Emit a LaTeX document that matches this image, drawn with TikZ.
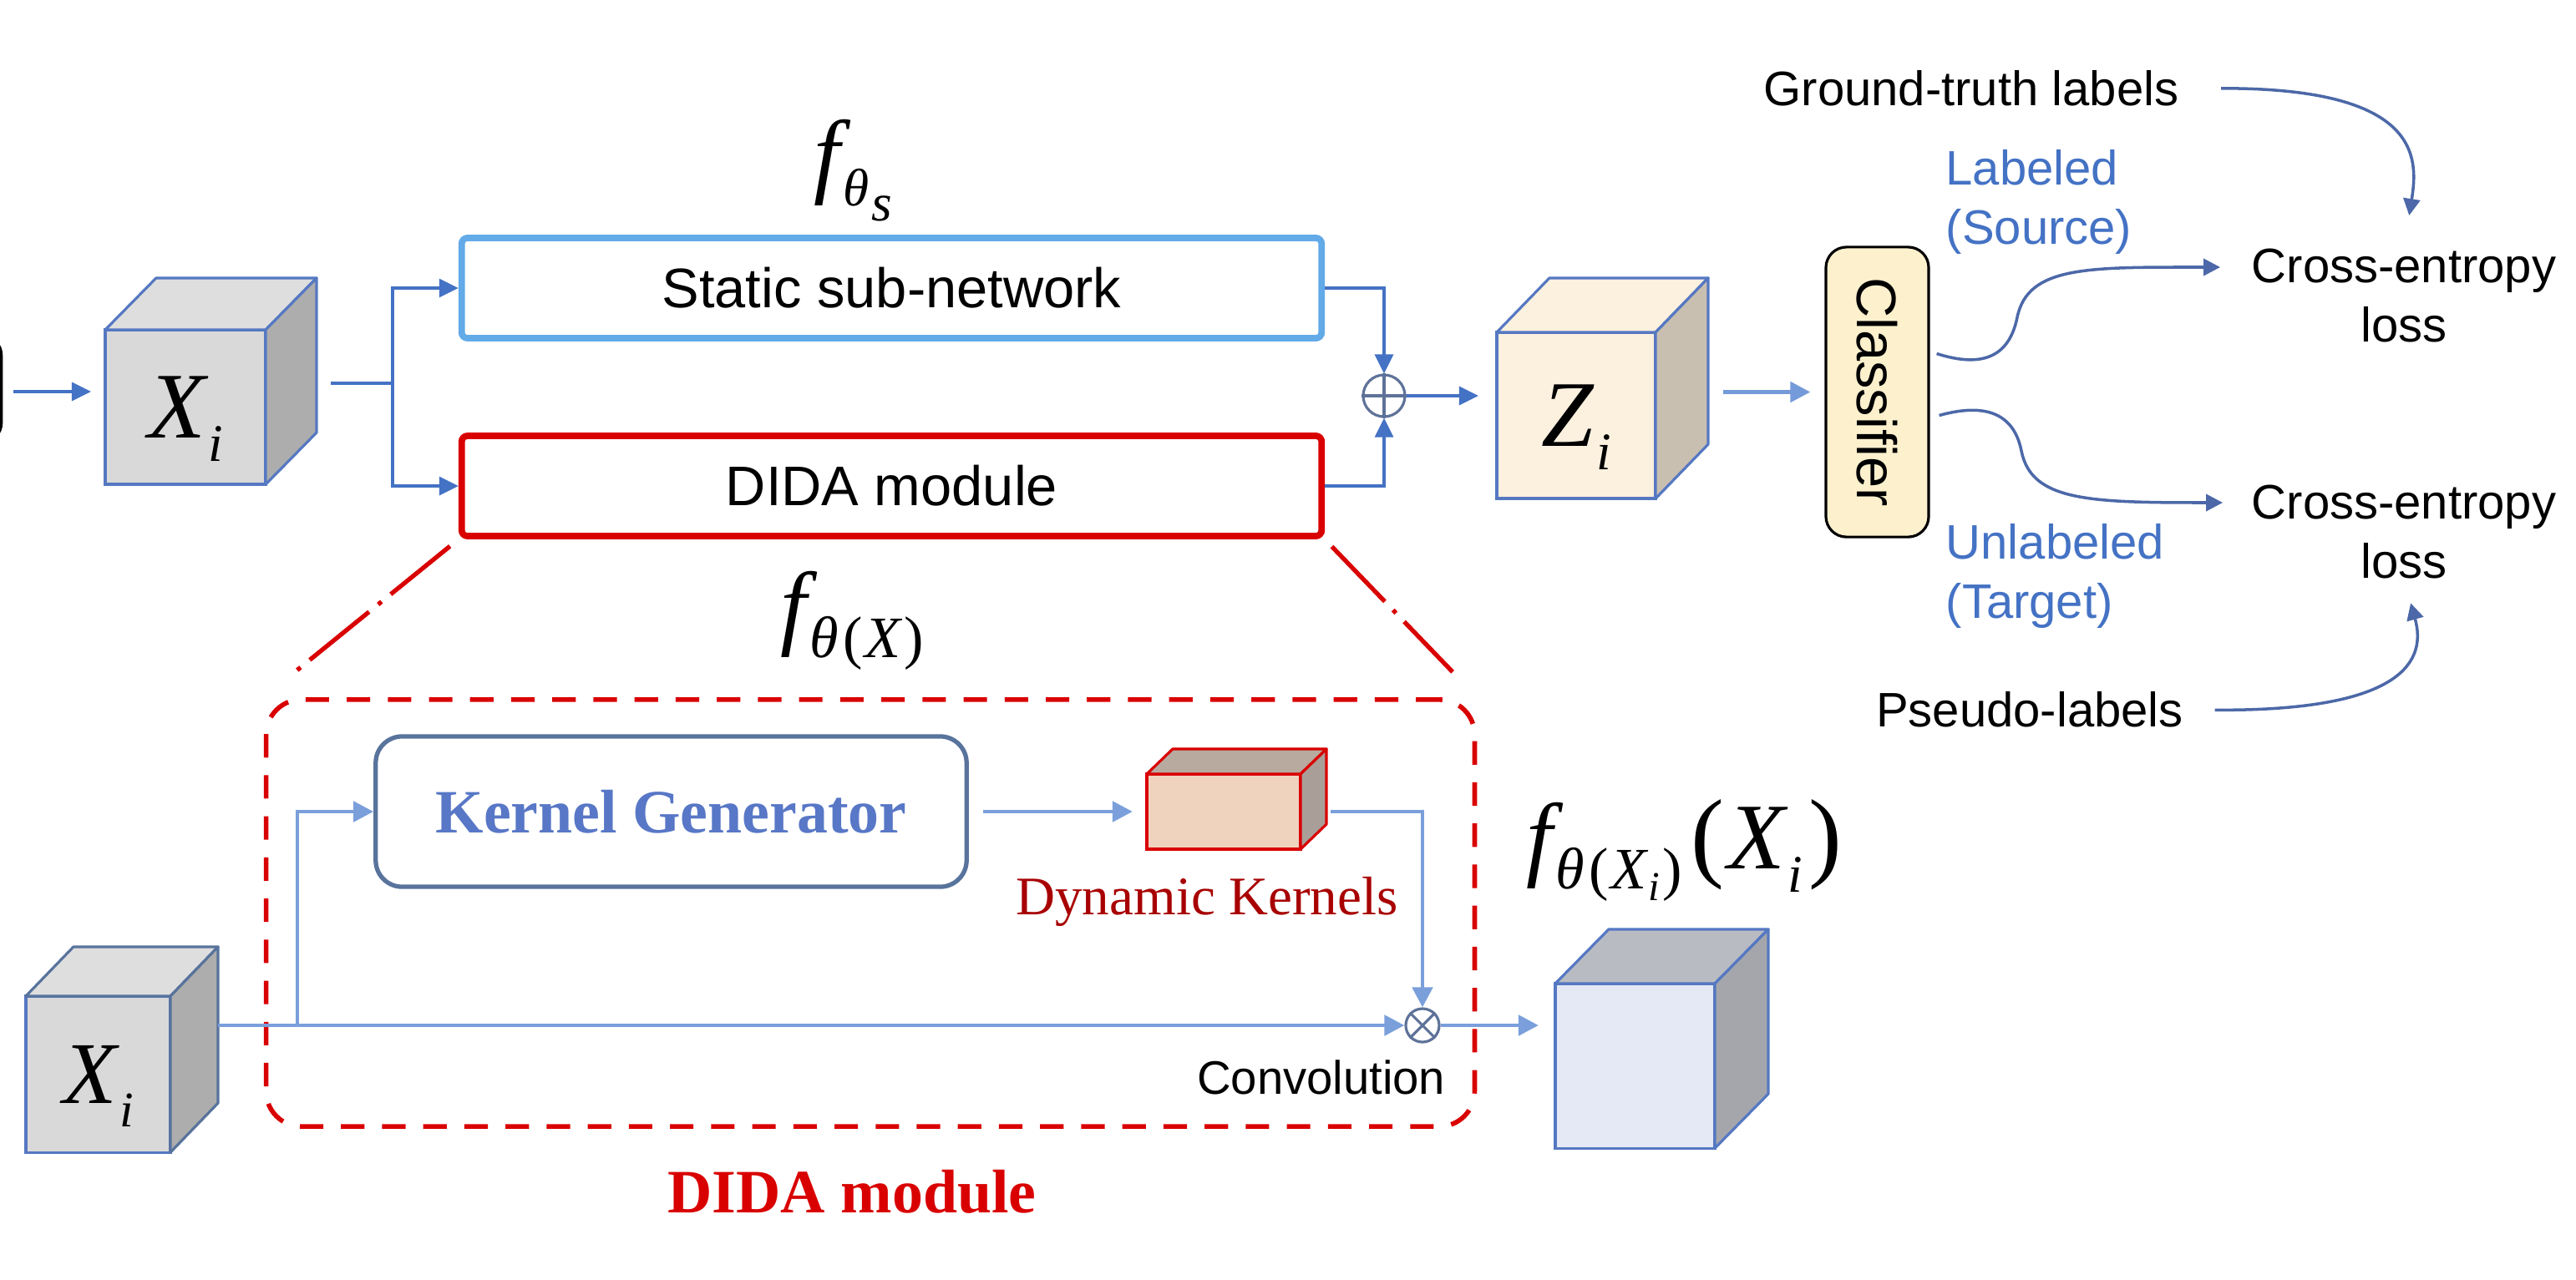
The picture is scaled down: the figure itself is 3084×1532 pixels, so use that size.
\documentclass[tikz,border=0pt]{standalone}
\usepackage{fontspec}
\setmainfont{Liberation Serif}
\setsansfont{Liberation Sans}
\usetikzlibrary{arrows.meta,calc,positioning}

\definecolor{linkblue}{HTML}{4472C4}
\definecolor{paleblue}{HTML}{7A9FDB}
\definecolor{curveblue}{HTML}{4C68A8}
\definecolor{skyblue}{HTML}{62AAE8}
\definecolor{didared}{HTML}{D90000}
\definecolor{kgedge}{HTML}{58739C}
\definecolor{kgtext}{HTML}{5877C6}
\definecolor{darkred}{HTML}{A80000}
\definecolor{opedge}{HTML}{5E7299}
\definecolor{cubeline}{HTML}{5578C2}
\definecolor{greyfront}{HTML}{D9D9D9}
\definecolor{greytop}{HTML}{DEDEDE}
\definecolor{greyside}{HTML}{ADADAD}
\definecolor{zfront}{HTML}{FCF0DF}
\definecolor{zside}{HTML}{C8BFB1}
\definecolor{outfront}{HTML}{E5E9F5}
\definecolor{outtop}{HTML}{B9BBC3}
\definecolor{outside}{HTML}{A5A6AC}
\definecolor{dkfront}{HTML}{F0D3BF}
\definecolor{dktop}{HTML}{B8AA9F}
\definecolor{dkside}{HTML}{A99F98}
\definecolor{clsfill}{HTML}{FCF0CD}

% math-like text in Times shapes
\newcommand{\mathbig}{\fontsize{32}{34}\selectfont\itshape}
\newcommand{\mathsmall}{\fontsize{20}{22}\selectfont\itshape}
\newcommand{\mathtiny}{\fontsize{14}{16}\selectfont\itshape}
\newcommand{\lowsub}[2][7pt]{\raisebox{-#1}{#2}}
\newcommand{\uparen}[1]{{\upshape#1}}

% top and side faces of a cube whose front face is node #1
\newcommand{\cubefaces}[6]{%
  \filldraw[draw=#6, line width=0.9pt, line join=round, fill=#4] (#1.north west) -- ++(#2,-#3)
    -- ($(#1.north east)+(#2,-#3)$) -- (#1.north east) -- cycle;
  \filldraw[draw=#6, line width=0.9pt, line join=round, fill=#5] (#1.north east) -- ++(#2,-#3)
    -- ($(#1.south east)+(#2,-#3)$) -- (#1.south east) -- cycle;
}

\begin{document}
\begin{tikzpicture}[x=0.01cm, y=-0.01cm,
    conn/.style={draw=linkblue, line width=0.9pt, -{Triangle[length=0.23cm, width=0.22cm]}},
    lconn/.style={draw=paleblue, line width=1.4pt, -{Triangle[length=0.24cm, width=0.24cm]}},
    curve/.style={draw=curveblue, line width=1pt, -{Triangle[length=0.2cm, width=0.2cm]}},
    cubefront/.style={draw=#1, line width=0.9pt, inner sep=0pt, outer sep=0pt, text depth=0pt},
    netbox/.style={rectangle, rounded corners=2pt, line width=2.2pt, inner sep=0pt,
        minimum width=10.29cm, minimum height=1.2cm, font=\sffamily\fontsize{19}{22}\selectfont},
    oper/.style={circle, draw=opedge, line width=0.9pt, inner sep=0pt, fill=white},
    sanslabel/.style={inner sep=0pt, font=\sffamily\fontsize{16.5}{20}\selectfont},
    dashdot/.style={draw=didared, line width=1.5pt, dash pattern=on 26pt off 4pt on 1.5pt off 4pt},
  ]
  \useasboundingbox (0,0) rectangle (3084,1532);

  % cut-off block at the left edge
  \draw[line width=1.3pt, rounded corners=6pt] (-60,404) rectangle (1,528);

  % upper branch
  \node[cubefront=cubeline, fill=greyfront, minimum width=1.92cm, minimum height=1.85cm,
        font=\mathbig] (xtop) at (222,487.5) {X\kern1pt\lowsub[8pt]{\fontsize{18}{20}\selectfont i}};
  \cubefaces{xtop}{61}{62}{greytop}{greyside}{cubeline}

  \node[netbox, draw=skyblue] (static) at (1067.5,345) {Static sub-network};
  \node[netbox, draw=didared] (dida) at (1067.5,582) {DIDA module};
  \node[anchor=base west, font=\mathbig] (fs) at (962,222)
    {f\kern1pt\lowsub{\fontsize{18}{20}\selectfont θ\kern1pt\lowsub[5pt]{s}}};

  \node[oper, minimum size=0.5cm] (plus) at (1657,474) {};
  \draw[opedge, line width=0.9pt] (plus.north) -- (plus.south) (plus.west) -- (plus.east);

  \node[cubefront=cubeline, fill=zfront, minimum width=1.9cm, minimum height=1.99cm,
        font=\mathbig] (zc) at (1887,497.5) {Z\kern1pt\lowsub[8pt]{\fontsize{18}{20}\selectfont i}};
  \cubefaces{zc}{63}{65}{zfront}{zside}{cubeline}

  \node[rectangle, rotate=-90, draw=black, line width=0.9pt, fill=clsfill, rounded corners=7pt,
        minimum width=3.47cm, minimum height=1.23cm, inner sep=0pt,
        font=\sffamily\fontsize{19}{22}\selectfont] (cls) at (2247.5,469.5) {Classifier};

  \coordinate (inp) at (16,469);
  \coordinate (xout) at (396,459);
  \coordinate (split) at (470,459);
  \draw[conn, shorten >=0.17cm] (inp) -- (inp -| xtop.west);
  \draw[linkblue, line width=0.9pt] (xout) -- (split);
  \draw[conn] (split) |- (static.west);
  \draw[conn] (split) |- (dida.west);
  \draw[conn] (static.east) -| (plus.north);
  \draw[conn] (dida.east) -| (plus.south);
  \draw[conn, shorten >=0.22cm] (plus.east) -- (plus.east -| zc.west);
  \draw[lconn, draw=paleblue!90!linkblue, shorten <=0.81cm, shorten >=0.17cm] (zc.east |- cls.south) -- (cls.south);

  % losses
  \node[sanslabel, align=center] (ce1) at (2878,354) {Cross-entropy\\loss};
  \node[sanslabel, align=center] (ce2) at (2878,637) {Cross-entropy\\loss};
  \node[sanslabel] (gt) at (2360,106) {Ground-truth labels};
  \node[sanslabel] (pseudo) at (2430,850) {Pseudo-labels};
  \node[sanslabel, text=linkblue, align=left, anchor=west] (src) at (2329,242) {Labeled\\(Source)};
  \node[sanslabel, text=linkblue, align=left, anchor=west] (tgt) at (2329,690) {Unlabeled\\(Target)};

  \draw[curve, shorten >=0.37cm] ([shift={(8,-46)}]cls.north) .. controls (2370,440) and (2405,430) .. (2415,380)
    .. controls (2428,318) and (2500,320) .. ([yshift=0.34cm]ce1.west);
  \draw[curve, shorten >=0.34cm] ([shift={(11,28)}]cls.north) .. controls (2370,484) and (2410,490) .. (2420,540)
    .. controls (2432,600) and (2500,602) .. ([yshift=0.35cm]ce2.west);
  \draw[curve, shorten <=0.5cm, shorten >=0.4cm] (gt.east) .. controls (2900,105) and (2895,190) .. (ce1.north);
  \draw[curve, shorten <=0.37cm, shorten >=0.3cm] (pseudo.east) .. controls (2880,852) and (2905,790) .. (ce2.south);

  % zoom into the DIDA module
  \node[draw=didared, line width=1.6pt, dash pattern=on 8pt off 6pt, rounded corners=12pt,
        minimum width=14.46cm, minimum height=5.11cm, inner sep=0pt] (region) at (1042,1093.5) {};
  \draw[dashdot, shorten <=0.13cm, shorten >=0.42cm] (dida.south west) -- (region.north west);
  \draw[dashdot, shorten <=0.12cm, shorten >=0.42cm] (dida.south east) -- (region.north east);
  \node[anchor=base west, font=\fontsize{32}{34}\selectfont\itshape] (fx) at (922,763)
    {f\kern1pt\lowsub{\mathsmall θ\kern1.5pt\uparen{(}\kern1pt X\kern1pt\uparen{)}}};
  \node[font=\bfseries\fontsize{21}{24}\selectfont, text=didared] (didalabel) at (1020,1427) {DIDA module};

  \node[draw=kgedge, line width=1.5pt, rounded corners=9pt, minimum width=7.07cm, minimum height=1.8cm,
        inner sep=0pt, text=kgtext, font=\bfseries\fontsize{21}{24}\selectfont] (kg) at (803.5,972) {Kernel Generator};

  \node[cubefront=didared, fill=dkfront, minimum width=1.84cm, minimum height=0.9cm] (dk) at (1465,972) {};
  \cubefaces{dk}{31}{30}{dktop}{dkside}{didared}
  \node[text=darkred, font=\fontsize{18.5}{20}\selectfont] (dklabel) at (1445,1080) {Dynamic Kernels};

  \node[cubefront=cubeline, fill=greyfront, minimum width=1.73cm, minimum height=1.87cm,
        font=\fontsize{30}{32}\selectfont\itshape] (xlo) at (117.5,1286.5) {X\kern1pt\lowsub[8pt]{\fontsize{17}{20}\selectfont i}};
  \cubefaces{xlo}{57}{59}{greytop}{greyside}{kgedge}

  \node[oper, minimum size=0.4cm] (otm) at (1703,1228) {};
  \draw[opedge, line width=0.9pt] (otm.north west) -- (otm.south east) (otm.north east) -- (otm.south west);
  \node[sanslabel, font=\sffamily\fontsize{16}{20}\selectfont, anchor=east] (convlabel) at (1731,1290) {Convolution};

  \node[cubefront=cubeline, fill=outfront, minimum width=1.91cm, minimum height=1.97cm] (outc) at (1957.5,1276.5) {};
  \cubefaces{outc}{64}{65}{outtop}{outside}{cubeline}
  \node[anchor=base west, font=\mathbig] (fout) at (1815,1040)
    {f\kern1pt\lowsub{\mathsmall θ\kern1.5pt\uparen{(}\kern1pt X\kern0.5pt\lowsub[4pt]{\mathtiny i}\kern1pt\uparen{)}}%
     \kern3pt{\fontsize{34}{36}\selectfont\uparen{(}}\kern1pt X\kern1pt\lowsub[8pt]{\fontsize{18}{20}\selectfont i}\kern2pt{\fontsize{34}{36}\selectfont\uparen{)}}};

  \coordinate (kgsplit) at (356,1229);
  \draw[lconn, shorten <=0.57cm] (otm.west -| xlo.east) -- (otm.west);
  \draw[lconn] (kgsplit) |- (kg.west);
  \draw[lconn, shorten <=0.17cm, shorten >=0.17cm] (kg.east) -- (dk.west);
  \draw[lconn, shorten <=0.36cm] (dk.east) -| (otm.north);
  \draw[lconn, shorten >=0.2cm] (otm.east) -- (otm.east -| outc.west);
\end{tikzpicture}
\end{document}
